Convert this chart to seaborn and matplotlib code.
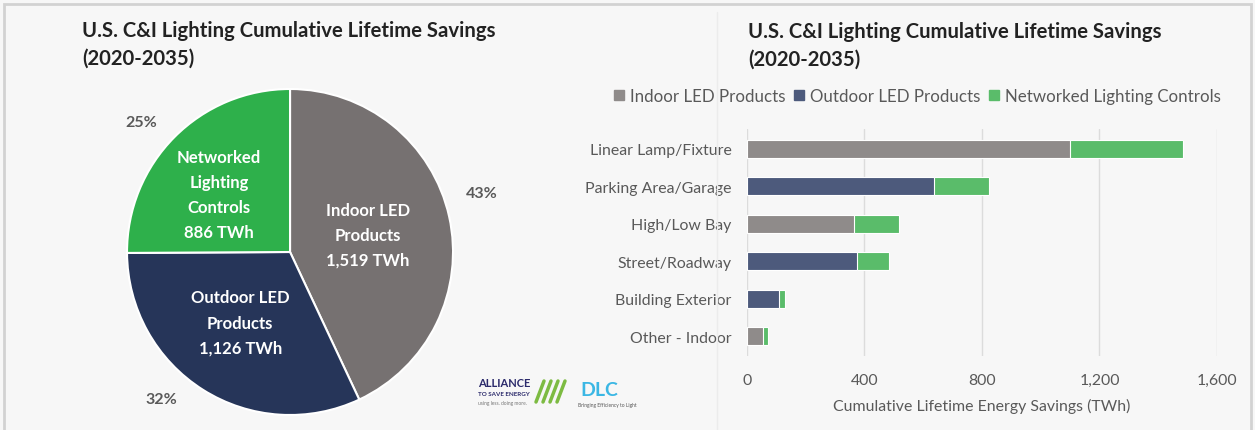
import numpy as np
import pandas as pd
import matplotlib
matplotlib.use("Agg")
import matplotlib.pyplot as plt
from matplotlib.patches import Patch, Rectangle
import seaborn as sns

# pie data
pie_labels = ["Indoor LED\nProducts\n1,519 TWh", "Outdoor LED\nProducts\n1,126 TWh",
              "Networked\nLighting\nControls\n886 TWh"]
pie_values = [1519, 1126, 886]
pie_pcts = ["43%", "32%", "25%"]

# bar data (TWh)
categories = ["Linear Lamp/Fixture", "Parking Area/Garage", "High/Low Bay",
              "Street/Roadway", "Building Exterior", "Other - Indoor"]
led_type = ["Indoor LED Products", "Outdoor LED Products", "Indoor LED Products",
            "Outdoor LED Products", "Outdoor LED Products", "Indoor LED Products"]
led_savings = [1098, 635, 365, 376, 110, 54]
nlc_savings = [388, 188, 152, 106, 19, 17]

bg = "#f7f7f7"
txt = "#595959"
sns.set_theme(style="white")
plt.rcParams["font.family"] = ["Lato", "DejaVu Sans"]

fig = plt.figure(figsize=(12.55, 4.31), dpi=100, facecolor=bg)

# border and divider
fig.add_artist(Rectangle((0.003, -0.02), 0.994, 1.008, transform=fig.transFigure,
                         fill=False, edgecolor="#d2d2d2", lw=2, zorder=10))
fig.add_artist(plt.Line2D([0.571, 0.571], [0.0, 0.97], transform=fig.transFigure,
                          color="#ececec", lw=1))

# ---------------- pie ----------------
ax1 = fig.add_axes([0.1012, 0.0348, 0.2598, 0.7564])
ax1.set_facecolor(bg)
pie_colors = ["#767171", "#263559", "#2eb04b"]
wedges, _ = ax1.pie(pie_values, colors=pie_colors, startangle=90, counterclock=False,
                    wedgeprops=dict(edgecolor="white", linewidth=1.5), radius=1)
inner_r = [0.49, 0.53, 0.56]
inner_shift = [0, -3, 6]
pct_r = [1.23, 1.2, 1.21]
pct_shift = [4.4, -8.9, 3.7]
for i, w in enumerate(wedges):
    mid = (w.theta1 + w.theta2) / 2
    a = np.deg2rad(mid + inner_shift[i])
    ax1.text(inner_r[i] * np.cos(a), inner_r[i] * np.sin(a), pie_labels[i], ha="center",
             va="center", color="white", fontsize=12, fontweight="bold", linespacing=1.7)
    b = np.deg2rad(mid + pct_shift[i])
    ax1.text(pct_r[i] * np.cos(b), pct_r[i] * np.sin(b), pie_pcts[i], ha="center",
             va="center", color=txt, fontsize=11.5, fontweight="bold")
ax1.set_xlim(-1, 1)
ax1.set_ylim(-1, 1)
ax1.set_aspect("equal")
ax1.axis("off")

title = "U.S. C&I Lighting Cumulative Lifetime Savings\n(2020-2035)"
fig.text(82 / 1255, 1 - 45 / 431, title, ha="left", va="center", fontsize=14.6,
         fontweight="bold", color="#222222", linespacing=1.5)
fig.text(748 / 1255, 1 - 46 / 431, title, ha="left", va="center", fontsize=14.6,
         fontweight="bold", color="#222222", linespacing=1.5)

# logos (text stand-ins)
fig.text(478 / 1255, 1 - 384 / 431, "ALLIANCE", fontsize=8, fontweight="bold",
         color="#2b2a6b", ha="left", va="center")
fig.text(478 / 1255, 1 - 395 / 431, "TO SAVE ENERGY", fontsize=4.5, fontweight="bold",
         color="#2b2a6b", ha="left", va="center")
fig.text(478 / 1255, 1 - 404 / 431, "using less. doing more.", fontsize=3.5,
         color="#777777", ha="left", va="center")
for k in range(4):
    fig.add_artist(plt.Line2D([(536 + k * 7) / 1255, (544 + k * 7) / 1255],
                              [1 - 403 / 431, 1 - 382 / 431], transform=fig.transFigure,
                              color="#7dbb42", lw=2.5))
fig.text(580 / 1255, 1 - 390 / 431, "DLC", fontsize=14, fontweight="bold",
         color="#3bb7e4", ha="left", va="center")
fig.text(578 / 1255, 1 - 406 / 431, "Bringing Efficiency to Light", fontsize=3.5,
         color="#555555", ha="left", va="center")

# ---------------- stacked bars ----------------
df = pd.DataFrame({"category": categories, "type": led_type,
                   "led": led_savings, "nlc": nlc_savings})
df["total"] = df["led"] + df["nlc"]

bar_colors = {"Indoor LED Products": "#8f8b8a", "Outdoor LED Products": "#4d5a7c",
              "Networked Lighting Controls": "#5abc6a"}

ax2 = fig.add_axes([0.5952, 0.1717, 0.3745, 0.5267])
ax2.set_facecolor(bg)
sns.barplot(data=df, x="total", y="category", color=bar_colors["Networked Lighting Controls"],
            width=0.48, ax=ax2, saturation=1, edgecolor="white", linewidth=0.8)
sns.barplot(data=df, x="led", y="category", hue="type", palette=bar_colors, dodge=False,
            width=0.48, ax=ax2, saturation=1, edgecolor="white", linewidth=0.8, legend=False)
ax2.set_xlim(0, 1600)
ax2.set_ylim(5.52, -0.52)
ax2.set_xticks([0, 400, 800, 1200, 1600])
ax2.set_xticklabels(["0", "400", "800", "1,200", "1,600"])
ax2.grid(axis="x", color="#dcdcdc", lw=1)
ax2.set_axisbelow(True)
for s in ax2.spines.values():
    s.set_visible(False)
ax2.tick_params(axis="both", length=0, labelsize=11.4, colors=txt)
ax2.tick_params(axis="y", pad=11)
ax2.tick_params(axis="x", pad=12)
ax2.set_ylabel("")
ax2.set_xlabel("Cumulative Lifetime Energy Savings (TWh)", fontsize=11.4, color=txt, labelpad=8)

handles = [Patch(color=bar_colors[k]) for k in bar_colors]
fig.legend(handles, list(bar_colors.keys()), loc="center", bbox_to_anchor=(917 / 1255, 1 - 97 / 431),
           ncol=3, frameon=False, fontsize=12.2, labelcolor=txt, handlelength=0.6, handleheight=0.6,
           handletextpad=0.35, columnspacing=0.5)

fig.savefig("out.png", dpi=100, facecolor=bg)
